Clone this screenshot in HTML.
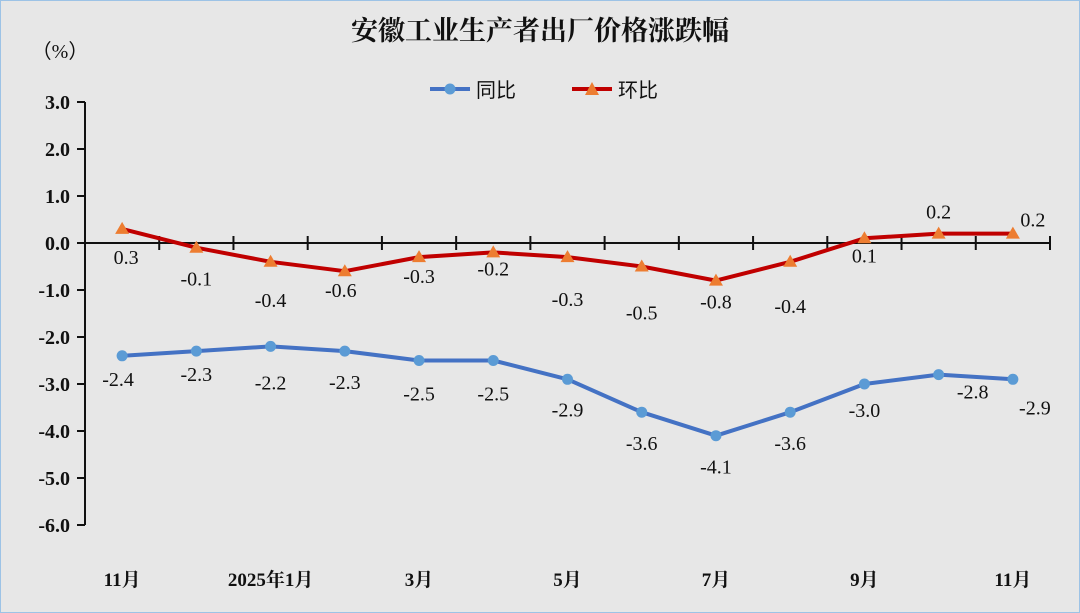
<!DOCTYPE html>
<html><head><meta charset="utf-8"><style>
html,body{margin:0;padding:0;}
body{width:1080px;height:613px;background:#e7e7e7;overflow:hidden;}
svg{display:block;}
</style></head><body>
<svg id="chart" width="1080" height="613" xmlns="http://www.w3.org/2000/svg">
<rect x="0.5" y="0.5" width="1079" height="612" fill="#e7e7e7" stroke="#9dc3e6" stroke-width="1"/>
<text x="540" y="40" text-anchor="middle" font-family="'Liberation Serif','Noto Serif CJK SC',serif" font-size="27" font-weight="bold" fill="#111">安徽工业生产者出厂价格涨跌幅</text>
<text x="60" y="58" text-anchor="middle" font-family="'Liberation Serif','Noto Sans CJK SC',serif" font-size="20" fill="#111">（%）</text>
<g>
<g>
<line x1="430" y1="89" x2="470" y2="89" stroke="#4472c4" stroke-width="4"/>
<circle cx="450" cy="89" r="5.5" fill="#5b9bd5"/>
<text x="476" y="97" font-family="'Liberation Sans','Noto Sans CJK SC',sans-serif" font-size="20" fill="#111">同比</text>
</g>
<g>
<line x1="572" y1="89" x2="612" y2="89" stroke="#c00000" stroke-width="4"/>
<polygon points="592,82 599,95 585,95" fill="#ed7d31"/>
<text x="618" y="97" font-family="'Liberation Sans','Noto Sans CJK SC',sans-serif" font-size="20" fill="#111">环比</text>
</g>
</g>
<g id="axes"></g>
<g id="series"></g>
</svg>
<script>
const categories=['11月','12月','2025年1月','2月','3月','4月','5月','6月','7月','8月','9月','10月','11月'];
const shownLabels=['11月','','2025年1月','','3月','','5月','','7月','','9月','','11月'];
const yoy=[-2.4,-2.3,-2.2,-2.3,-2.5,-2.5,-2.9,-3.6,-4.1,-3.6,-3.0,-2.8,-2.9];
const mom=[0.3,-0.1,-0.4,-0.6,-0.3,-0.2,-0.3,-0.5,-0.8,-0.4,0.1,0.2,0.2];
const yTicks=[3,2,1,0,-1,-2,-3,-4,-5,-6];
const momDy=[28,31,38,19,19,16,42,46,21,44,17,-22,-14];
const momDx=[4,0,0,-4,0,0,0,0,0,0,0,0,20];
const yoyDy=[23,23,36,31,33,33,30,31,31,31,26,17,28];
const yoyDx=[-4,0,0,0,0,0,0,0,0,0,0,34,22];

const NS='http://www.w3.org/2000/svg';
const X0=85,X1=1050,Y3=102,PX=47;
const band=(X1-X0)/categories.length;
const xs=i=>X0+band*(i+0.5);
const ys=v=>Y3+(3-v)*PX;
const serif="'Liberation Serif','Noto Serif CJK SC',serif";
function mk(tag,attrs,parent){const e=document.createElementNS(NS,tag);for(const k in attrs)e.setAttribute(k,attrs[k]);parent.appendChild(e);return e;}
const axes=document.getElementById('axes'),series=document.getElementById('series');
let e=mk('line',{x1:X0,y1:ys(3),x2:X0,y2:ys(-6),stroke:'#111','stroke-width':2},axes);


e=mk('line',{x1:X0,y1:ys(0),x2:X1,y2:ys(0),stroke:'#111','stroke-width':2},axes);


yTicks.forEach(v=>{
 mk('line',{x1:X0-8,y1:ys(v),x2:X0,y2:ys(v),stroke:'#111','stroke-width':2},axes);
 const t=mk('text',{x:X0-15,y:ys(v)+7,'text-anchor':'end','font-family':serif,'font-size':20,'font-weight':'bold',fill:'#111'},axes);
 t.textContent=v.toFixed(1);
 
 
});
for(let i=1;i<=categories.length;i++){
 const x=X0+band*i;
 mk('line',{x1:x,y1:ys(0)-7,x2:x,y2:ys(0)+7,stroke:'#111','stroke-width':2},axes);
}
shownLabels.forEach((l,i)=>{
 if(!l)return;
 const t=mk('text',{x:xs(i),y:586,'text-anchor':'middle','font-family':serif,'font-size':19,'font-weight':'bold',fill:'#111'},axes);
 t.textContent=l;
 
 
});
function drawSeries(vals,color,name,marker,dx,dy){
 const g=mk('g',{},series);
 
 
 const p=mk('polyline',{points:vals.map((v,i)=>xs(i)+','+ys(v)).join(' '),fill:'none',stroke:color,'stroke-width':4,'stroke-linejoin':'round'},g);
 
 
 vals.forEach((v,i)=>{
  const x=xs(i),y=ys(v);
  let m;
  if(marker==='circle') m=mk('circle',{cx:x,cy:y,r:5.5,fill:'#5b9bd5'},g);
  else m=mk('polygon',{points:`${x},${y-7} ${x+7},${y+5} ${x-7},${y+5}`,fill:'#ed7d31'},g);
  
  
  const t=mk('text',{x:x+dx[i],y:y+dy[i]+7,'text-anchor':'middle','font-family':serif,'font-size':20,fill:'#111'},g);
  t.textContent=v.toFixed(1);
  
  
 });
}
drawSeries(mom,'#c00000','mom','triangle',momDx,momDy);
drawSeries(yoy,'#4472c4','yoy','circle',yoyDx,yoyDy);
</script>
</body></html>
